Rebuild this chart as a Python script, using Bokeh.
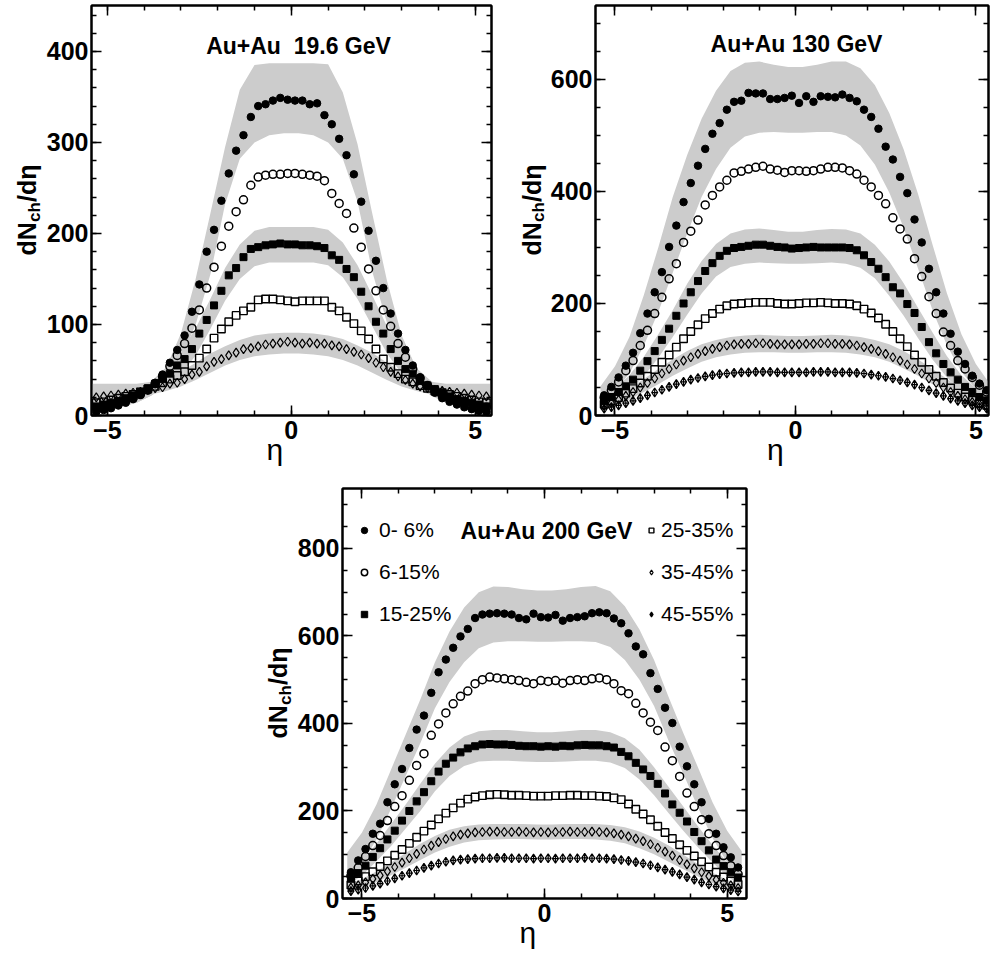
import math
from bokeh.plotting import figure
from bokeh.models import (Range1d, FixedTicker, LinearAxis, Label, Legend, LegendItem, Spacer,
                          CustomLabelingPolicy)
from bokeh.layouts import column, row
from bokeh.embed import file_html
from bokeh.resources import INLINE

FONT = "Liberation Sans"
BAND = "#cccccc"

# ---------------- data ----------------
ETA = [-5.3, -5.1, -4.9, -4.7, -4.5, -4.3, -4.1, -3.9, -3.7, -3.5, -3.3, -3.1, -2.9, -2.7,
       -2.5, -2.3, -2.1, -1.9, -1.7, -1.5, -1.3, -1.1, -0.9, -0.7, -0.5, -0.3, -0.1,
       0.1, 0.3, 0.5, 0.7, 0.9, 1.1, 1.3, 1.5, 1.7, 1.9, 2.1, 2.3, 2.5, 2.7,
       2.9, 3.1, 3.3, 3.5, 3.7, 3.9, 4.1, 4.3, 4.5, 4.7, 4.9, 5.1, 5.3]
ETA_BAND = [-5.4, -5.0, -4.6, -4.2, -3.8, -3.4, -3.0, -2.6, -2.2, -1.8, -1.4, -1.0, -0.6, -0.2,
            0.2, 0.6, 1.0, 1.4, 1.8, 2.2, 2.6, 3.0, 3.4, 3.8, 4.2, 4.6, 5.0, 5.4]

CENT_LABELS = ["0- 6%", "6-15%", "15-25%", "25-35%", "35-45%", "45-55%"]

# Au+Au 19.6 GeV
c0_196 = [4, 6, 8, 11, 14, 18, 23, 29, 36, 45, 58, 72, 88, 114, 144, 180, 204, 236, 266, 291, 308, 328, 340, 342, 346, 349, 347,
          346, 346, 342, 343, 330, 320, 304, 286, 265, 235, 203, 170, 140, 112, 90, 72, 55, 42, 32, 25, 19, 15, 12, 9, 7, 5, 4]
c1_196 = [8, 9, 11, 13, 16, 19, 23, 28, 35, 43, 54, 66, 79, 96, 116, 140, 163, 186, 208, 224, 237, 253, 262, 264, 265, 265, 266,
          266, 265, 264, 263, 258, 244, 233, 222, 206, 185, 161, 137, 116, 98, 79, 64, 51, 41, 33, 27, 22, 18, 15, 13, 11, 10, 9]
c2_196 = [10, 12, 14, 16, 19, 22, 26, 30, 35, 40, 46, 55, 62, 73, 90, 105, 121, 137, 154, 162, 174, 183, 185, 187, 188, 189, 188,
          188, 187, 187, 186, 184, 176, 171, 161, 152, 136, 120, 103, 90, 73, 60, 51, 46, 38, 33, 29, 25, 21, 18, 16, 14, 12, 10]
c3_196 = [14, 15, 17, 19, 21, 23, 26, 29, 32, 36, 40, 44, 48, 55, 63, 73, 85, 95, 103, 110, 115, 119, 127, 128, 128, 127, 126,
          125, 126, 126, 126, 126, 119, 115, 108, 101, 93, 84, 73, 62, 53, 46, 40, 37, 33, 30, 27, 25, 23, 21, 19, 17, 15, 14]
c4_196 = [20, 21, 22, 23, 24, 25, 26, 28, 30, 31, 35, 36, 40, 45, 48, 54, 59, 62, 66, 69, 73, 74, 76, 78, 79, 80, 81,
          80, 79, 80, 79, 79, 77, 76, 73, 70, 67, 63, 58, 53, 48, 43, 39, 35, 32, 30, 28, 27, 26, 25, 24, 23, 22, 21]
bA_hi_196 = [35, 35, 35, 35, 37, 53, 90, 150, 222, 295, 358, 385, 387, 387, 387, 387, 386, 355, 298, 222, 148, 88, 52, 37, 35, 35, 35, 35]
bA_lo_196 = [8, 8, 10, 14, 22, 36, 62, 100, 155, 232, 282, 300, 308, 310, 310, 308, 300, 282, 235, 158, 102, 62, 36, 22, 14, 10, 8, 8]
bB_hi_196 = [12, 14, 18, 25, 38, 52, 70, 96, 128, 162, 188, 203, 207, 207, 207, 207, 204, 190, 165, 132, 98, 70, 52, 38, 25, 18, 14, 12]
bB_lo_196 = [6, 8, 10, 14, 22, 32, 45, 66, 95, 126, 150, 164, 168, 168, 168, 168, 165, 152, 128, 98, 68, 46, 32, 22, 14, 10, 8, 6]
bC_hi_196 = [28, 29, 30, 32, 35, 40, 48, 58, 68, 76, 83, 88, 90, 91, 91, 90, 88, 84, 77, 69, 58, 48, 40, 35, 32, 30, 29, 28]
bC_lo_196 = [14, 16, 18, 20, 23, 27, 32, 39, 47, 55, 61, 65, 67, 68, 68, 67, 65, 61, 55, 47, 39, 32, 27, 23, 20, 18, 16, 14]

# Au+Au 130 GeV
c0_130 = [36, 51, 68, 89, 112, 147, 182, 220, 256, 301, 339, 381, 415, 446, 476, 503, 522, 546, 560, 562, 576, 575, 575, 565, 565, 567, 571,
          558, 570, 560, 570, 569, 568, 573, 567, 561, 546, 533, 512, 480, 457, 426, 397, 350, 309, 262, 220, 182, 146, 114, 92, 71, 57, 45]
c1_130 = [32, 45, 60, 80, 98, 125, 152, 182, 211, 244, 271, 309, 329, 349, 376, 393, 408, 420, 433, 436, 440, 443, 445, 440, 438, 434, 437,
          437, 436, 437, 440, 443, 443, 442, 437, 431, 420, 408, 393, 378, 353, 333, 315, 280, 248, 212, 182, 149, 125, 98, 83, 68, 54, 42]
c2_130 = [26, 33, 42, 52, 64, 80, 97, 115, 135, 155, 178, 200, 220, 240, 258, 272, 285, 294, 299, 301, 303, 305, 305, 303, 301, 300, 298,
          299, 300, 301, 300, 300, 300, 300, 299, 295, 286, 274, 262, 247, 229, 218, 199, 183, 158, 131, 111, 92, 77, 64, 51, 42, 33, 27]
c3_130 = [20, 26, 32, 40, 48, 58, 70, 82, 95, 108, 122, 137, 150, 162, 173, 182, 190, 196, 199, 200, 201, 202, 202, 202, 200, 199, 199,
          200, 201, 201, 202, 201, 200, 200, 199, 196, 190, 183, 174, 163, 150, 137, 123, 108, 95, 82, 70, 59, 49, 40, 33, 27, 22, 18]
c4_130 = [17, 22, 28, 35, 42, 50, 58, 66, 75, 83, 91, 98, 104, 110, 115, 119, 122, 125, 127, 128, 128, 129, 129, 128, 127, 127, 127,
          127, 128, 128, 129, 129, 128, 128, 127, 125, 122, 119, 115, 110, 104, 98, 91, 83, 75, 66, 58, 50, 42, 35, 29, 24, 20, 16]
c5_130 = [12, 15, 18, 22, 26, 31, 36, 41, 46, 51, 56, 60, 64, 67, 70, 72, 74, 75, 76, 77, 77, 78, 78, 78, 77, 77, 77,
          77, 77, 78, 78, 78, 77, 77, 77, 76, 75, 73, 71, 69, 66, 63, 59, 55, 50, 45, 40, 35, 30, 26, 22, 18, 15, 12]
bA_hi_130 = [52, 88, 140, 215, 300, 390, 465, 530, 580, 615, 630, 632, 626, 622, 622, 626, 632, 632, 620, 590, 540, 475, 395, 305, 218, 145, 92, 55]
bA_lo_130 = [22, 45, 75, 125, 185, 255, 325, 390, 440, 478, 498, 505, 506, 505, 505, 506, 506, 500, 482, 448, 398, 335, 262, 188, 125, 78, 47, 24]
bB_hi_130 = [32, 48, 72, 105, 145, 188, 235, 276, 306, 325, 332, 334, 331, 328, 328, 331, 333, 332, 325, 305, 275, 236, 192, 148, 106, 72, 48, 32]
bB_lo_130 = [16, 27, 44, 70, 103, 140, 180, 218, 248, 265, 271, 273, 272, 271, 271, 272, 273, 271, 264, 245, 214, 178, 138, 100, 68, 43, 27, 16]
bC_hi_130 = [22, 33, 48, 65, 83, 100, 115, 127, 135, 140, 143, 144, 143, 142, 142, 143, 144, 143, 140, 135, 127, 115, 100, 83, 65, 48, 33, 22]
bC_lo_130 = [10, 17, 28, 42, 56, 71, 84, 96, 104, 109, 112, 113, 113, 112, 112, 113, 113, 112, 109, 104, 96, 84, 71, 56, 42, 28, 17, 10]

# Au+Au 200 GeV
c0_200 = [60, 87, 113, 148, 171, 220, 261, 296, 344, 386, 418, 470, 517, 546, 573, 599, 616, 641, 649, 651, 652, 651, 649, 641, 638, 651, 643,
          642, 648, 635, 641, 643, 645, 652, 654, 652, 640, 629, 606, 576, 558, 515, 479, 436, 401, 347, 302, 261, 220, 182, 148, 117, 94, 71]
c1_200 = [52, 70, 96, 121, 144, 178, 210, 235, 270, 304, 331, 373, 399, 424, 445, 462, 474, 491, 500, 506, 504, 502, 500, 498, 494, 491, 498,
          496, 498, 492, 498, 500, 498, 502, 504, 500, 491, 475, 468, 446, 424, 403, 384, 346, 315, 279, 241, 210, 180, 148, 121, 98, 75, 56]
c2_200 = [45, 58, 75, 95, 115, 135, 155, 178, 200, 222, 243, 268, 290, 308, 322, 334, 343, 348, 352, 353, 352, 352, 351, 349, 348, 348, 347,
          348, 347, 349, 348, 350, 351, 350, 350, 348, 345, 335, 325, 310, 295, 280, 262, 240, 215, 196, 176, 152, 131, 110, 89, 74, 60, 48]
c3_200 = [31, 40, 50, 61, 73, 86, 99, 112, 126, 140, 154, 168, 182, 195, 207, 218, 227, 232, 235, 237, 238, 237, 236, 236, 235, 234, 234,
          234, 235, 235, 236, 236, 235, 235, 234, 233, 230, 226, 216, 204, 193, 180, 165, 151, 137, 123, 110, 97, 84, 72, 60, 49, 40, 32]
c4_200 = [25, 30, 37, 45, 53, 62, 72, 82, 92, 102, 112, 121, 129, 136, 142, 146, 149, 151, 152, 153, 153, 152, 152, 153, 152, 151, 152,
          151, 152, 152, 153, 152, 152, 153, 152, 151, 149, 146, 142, 137, 131, 124, 116, 107, 98, 88, 78, 69, 60, 51, 43, 36, 30, 24]
c5_200 = [17, 20, 24, 29, 34, 40, 46, 52, 58, 64, 70, 75, 80, 84, 87, 89, 90, 91, 92, 92, 93, 93, 92, 92, 92, 91, 92,
          92, 91, 92, 92, 92, 93, 92, 92, 91, 90, 88, 86, 83, 80, 76, 71, 66, 61, 55, 49, 43, 37, 32, 27, 23, 19, 16]
bA_hi_200 = [105, 150, 215, 295, 375, 455, 540, 610, 665, 700, 713, 712, 707, 704, 704, 707, 712, 714, 702, 668, 615, 545, 460, 378, 300, 220, 155, 108]
bA_lo_200 = [42, 80, 135, 205, 280, 355, 435, 495, 540, 572, 585, 588, 588, 587, 587, 588, 588, 586, 575, 545, 500, 440, 360, 285, 208, 138, 82, 44]
bB_hi_200 = [55, 85, 125, 170, 215, 262, 308, 345, 370, 382, 385, 385, 382, 380, 380, 382, 385, 385, 380, 366, 340, 300, 255, 210, 165, 122, 82, 53]
bB_lo_200 = [30, 52, 85, 120, 160, 200, 245, 280, 303, 313, 315, 315, 313, 312, 312, 313, 315, 315, 311, 298, 272, 236, 195, 155, 117, 82, 50, 29]
bC_hi_200 = [32, 44, 62, 82, 104, 125, 143, 157, 165, 169, 170, 170, 170, 169, 169, 170, 170, 170, 168, 163, 153, 139, 121, 100, 79, 59, 42, 31]
bC_lo_200 = [15, 24, 37, 53, 70, 88, 105, 118, 128, 133, 135, 136, 136, 135, 135, 136, 136, 135, 132, 126, 115, 101, 84, 67, 50, 35, 23, 14]

X_MAJOR = [-5, 0, 5]
X_MINOR = [-5, -4, -3, -2, -1, 0, 1, 2, 3, 4, 5]
Y1_MAJOR = [0, 100, 200, 300, 400]
Y1_MINOR = [0, 20, 40, 60, 80, 100, 120, 140, 160, 180, 200, 220, 240, 260, 280, 300, 320, 340, 360, 380, 400, 420, 440]
Y2_MAJOR = [0, 200, 400, 600]
Y2_MINOR = [0, 50, 100, 150, 200, 250, 300, 350, 400, 450, 500, 550, 600, 650, 700]
Y3_MAJOR = [0, 200, 400, 600, 800]
Y3_MINOR = [0, 50, 100, 150, 200, 250, 300, 350, 400, 450, 500, 550, 600, 650, 700, 750, 800, 850, 900]

# marker styles for the six centrality classes
STYLES = [
    dict(marker="circle", size=7.5, fill_color="black", line_color="black", line_width=1),
    dict(marker="circle", size=8, fill_color=None, line_color="black", line_width=1.5),
    dict(marker="square", size=7, fill_color="black", line_color="black", line_width=1),
    dict(marker="square", size=7.5, fill_color=None, line_color="black", line_width=1.4),
    dict(marker="diamond", size=9, fill_color=None, line_color="black", line_width=1.2),
    dict(marker="diamond_cross", size=9, fill_color=None, line_color="black", line_width=1.2),
]

HIDE_ALL = "for (const i of indices) { indices.unset(i) }\nreturn indices"

TOP_B, BOT_B = 5, 58
LAB_W = 43
LEFT_B = 46


def style_axis(ax, labels=True, standoff=5):
    ax.axis_line_width = 2
    ax.axis_line_color = "black"
    ax.major_tick_in = 10
    ax.major_tick_out = 0
    ax.minor_tick_in = 5
    ax.minor_tick_out = 0
    ax.major_tick_line_width = 1.5
    ax.minor_tick_line_width = 1.5
    ax.major_tick_line_color = "black"
    ax.minor_tick_line_color = "black"
    ax.major_label_text_font = FONT
    ax.major_label_text_font_style = "bold"
    ax.major_label_text_font_size = "25px"
    ax.major_label_text_color = "black"
    ax.major_label_standoff = standoff
    if not labels:
        ax.major_label_text_font_size = "0px"
        ax.major_label_standoff = 0
        ax.major_label_policy = CustomLabelingPolicy(code=HIDE_ALL)


def make_panel(xr, ymax, y_major, y_minor, fw, br, bt, bb, title, title_x, title_y):
    p = figure(frame_width=fw, frame_height=410, x_range=Range1d(*xr), y_range=Range1d(0, ymax),
               x_axis_type=None, y_axis_type=None, output_backend="svg", toolbar_location=None,
               min_border_left=LEFT_B, min_border_right=br, min_border_top=bt, min_border_bottom=bb)
    p.outline_line_color = "black"
    p.outline_line_width = 2
    p.background_fill_color = "white"
    p.border_fill_color = "white"
    xt = FixedTicker(ticks=X_MAJOR, minor_ticks=X_MINOR)
    yt = FixedTicker(ticks=y_major, minor_ticks=y_minor)
    xb = LinearAxis(ticker=xt)
    style_axis(xb, True)
    xb.axis_label = "\u03b7" + "\u00a0" * 4
    xb.axis_label_text_font = FONT
    xb.axis_label_text_font_style = "normal"
    xb.axis_label_text_font_size = "30px"
    xb.axis_label_text_color = "black"
    xb.axis_label_standoff = -9
    p.add_layout(xb, "below")
    xa = LinearAxis(ticker=xt)
    style_axis(xa, False)
    p.add_layout(xa, "above")
    yl = LinearAxis(ticker=yt)
    style_axis(yl, True, standoff=3)
    p.add_layout(yl, "left")
    yr = LinearAxis(ticker=yt)
    style_axis(yr, False)
    p.add_layout(yr, "right")
    p.add_layout(Label(x=title_x, y=title_y, x_units="screen", y_units="screen", text=title,
                       text_font=FONT, text_font_style="bold", text_font_size="23px", text_color="black",
                       text_align="center", text_baseline="middle"))
    return p


def ylabel_fig(bt, bb, xmain, xsub):
    f = figure(frame_width=LAB_W, frame_height=410, x_range=Range1d(0, 1), y_range=Range1d(0, 1),
               x_axis_type=None, y_axis_type=None, output_backend="svg", toolbar_location=None,
               min_border_left=0, min_border_right=0, min_border_top=bt, min_border_bottom=bb)
    f.outline_line_color = None
    f.background_fill_color = "white"
    f.border_fill_color = "white"
    for txt, xx, yy, fs in (("dN", xmain, 160, "25px"), ("ch", xsub, 193.5, "17px"), ("/d\u03b7", xmain, 213.5, "25px")):
        f.add_layout(Label(x=xx, y=yy, x_units="screen", y_units="screen", text=txt, angle=math.pi / 2,
                           text_font=FONT, text_font_style="bold", text_font_size=fs, text_color="black",
                           text_align="left", text_baseline="middle"))
    return f


def draw(p, bands, series):
    for lo, hi in bands:
        p.varea(x=ETA_BAND, y1=lo, y2=hi, fill_color=BAND, fill_alpha=1.0)
    rs = []
    for s, st in zip(series, STYLES):
        rs.append(p.scatter(x=ETA, y=s, **st))
    return rs


p1 = make_panel((-5.43, 5.44), 450.5, Y1_MAJOR, Y1_MINOR, 400, 13, TOP_B, BOT_B,
                "Au+Au\u00a0 19.6 GeV", 207, 370)
draw(p1, [(bA_lo_196, bA_hi_196), (bB_lo_196, bB_hi_196), (bC_lo_196, bC_hi_196)],
     [c0_196, c1_196, c2_196, c3_196, c4_196])

p2 = make_panel((-5.54, 5.35), 732, Y2_MAJOR, Y2_MINOR, 393, 2, TOP_B, BOT_B,
                "Au+Au 130 GeV", 201, 372)
draw(p2, [(bA_lo_130, bA_hi_130), (bB_lo_130, bB_hi_130), (bC_lo_130, bC_hi_130)],
     [c0_130, c1_130, c2_130, c3_130, c4_130, c5_130])

P3_TOP = 15
p3 = make_panel((-5.53, 5.53), 937, Y3_MAJOR, Y3_MINOR, 404, 5, P3_TOP, BOT_B,
                "Au+Au 200 GeV", 204, 368)
rs = draw(p3, [(bA_lo_200, bA_hi_200), (bB_lo_200, bB_hi_200), (bC_lo_200, bC_hi_200)],
          [c0_200, c1_200, c2_200, c3_200, c4_200, c5_200])

common = dict(orientation="vertical", glyph_height=24, label_height=24, spacing=18, padding=0, margin=0,
              border_line_alpha=0, background_fill_alpha=0, label_text_font=FONT,
              label_text_font_size="21px", label_text_color="black")
leg1 = Legend(items=[LegendItem(label=CENT_LABELS[i], renderers=[rs[i]]) for i in range(3)],
              location=(14, 272), glyph_width=16, label_standoff=7, **common)
leg2 = Legend(items=[LegendItem(label=CENT_LABELS[i], renderers=[rs[i]]) for i in range(3, 6)],
              location=(303, 272), glyph_width=12, label_standoff=4, **common)
p3.add_layout(leg1)
p3.add_layout(leg2)

yl1 = ylabel_fig(TOP_B, BOT_B, 26.5, 33.5)
yl2 = ylabel_fig(TOP_B, BOT_B, 27.5, 33.5)
yl3 = ylabel_fig(P3_TOP, BOT_B, 26.5, 33.5)

layout = column(row(yl1, p1, yl2, p2),
                row(Spacer(width=251, height=483), yl3, p3))

open("out.html", "w").write(file_html(layout, INLINE))
